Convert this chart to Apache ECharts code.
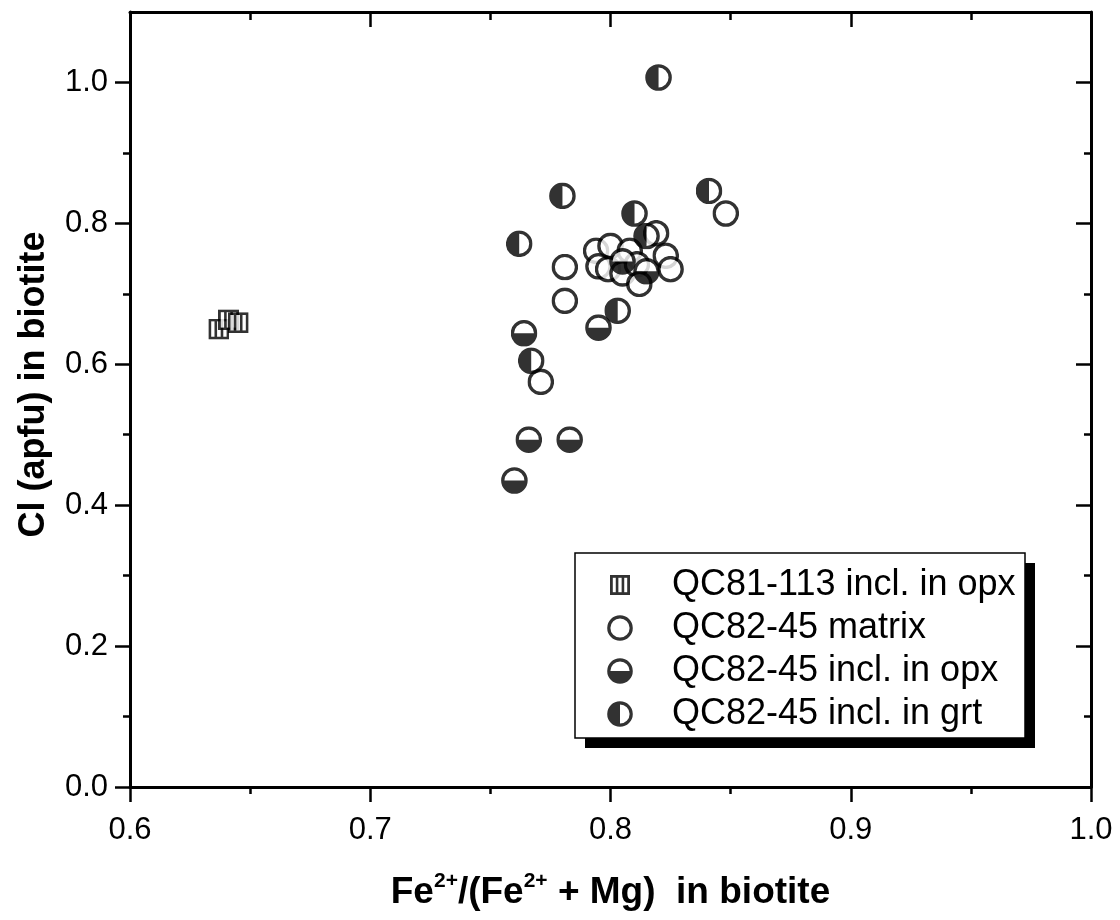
<!DOCTYPE html>
<html>
<head>
<meta charset="utf-8">
<title>Cl vs Fe/(Fe+Mg) in biotite</title>
<script src="https://cdn.jsdelivr.net/npm/echarts@6/dist/echarts.min.js"></script>
<style>
  html, body { margin: 0; padding: 0; background: #fff; }
  #chart { width: 1120px; height: 920px; }
</style>
</head>
<body>
<div id="chart"></div>
<script>
// ---- data: Fe2+/(Fe2+ + Mg) (x) and Cl apfu (y) per analysis ----
const seriesNames = [
  'QC81-113 incl. in opx',
  'QC82-45 matrix',
  'QC82-45 incl. in opx',
  'QC82-45 incl. in grt'
];

const qc81OpxX = [0.637, 0.641, 0.645];
const qc81OpxY = [0.650, 0.663, 0.659];

const matrixX = [0.848, 0.781, 0.781, 0.771, 0.794, 0.800, 0.808, 0.795, 0.799, 0.805, 0.811, 0.812, 0.823, 0.825, 0.819];
const matrixY = [0.814, 0.738, 0.690, 0.575, 0.761, 0.768, 0.761, 0.739, 0.735, 0.729, 0.742, 0.714, 0.754, 0.735, 0.786];

const inclOpxX = [0.764, 0.795, 0.766, 0.783, 0.760, 0.805, 0.815];
const inclOpxY = [0.644, 0.652, 0.493, 0.493, 0.435, 0.746, 0.732];

const inclGrtX = [0.820, 0.780, 0.762, 0.810, 0.841, 0.815, 0.803, 0.767];
const inclGrtY = [1.007, 0.839, 0.771, 0.814, 0.846, 0.782, 0.676, 0.605];

// ---- axis ticks ----
const xMajorTicks = [0.6, 0.7, 0.8, 0.9, 1.0];
const xMinorTicks = [0.65, 0.75, 0.85, 0.95];
const yMajorTicks = [0.0, 0.2, 0.4, 0.6, 0.8, 1.0];
const yMinorTicks = [0.1, 0.3, 0.5, 0.7, 0.9];

const FONT = '"Liberation Sans", Arial, Helvetica, sans-serif';

function zip(xs, ys) { return xs.map((x, i) => [x, ys[i]]); }

// ---- marker glyphs (SVG) ----
function svgUri(svg) {
  return 'image://data:image/svg+xml;charset=utf-8,' + encodeURIComponent(svg);
}
const R = 11.2, SW = 3.2;
const circleOpen =
  '<svg xmlns="http://www.w3.org/2000/svg" width="54" height="54" viewBox="0 0 26 26">' +
  '<circle cx="13" cy="13" r="' + R + '" fill="#fff" stroke="#000" stroke-width="' + SW + '"/></svg>';
const circleBottomHalf =
  '<svg xmlns="http://www.w3.org/2000/svg" width="54" height="54" viewBox="0 0 26 26">' +
  '<circle cx="13" cy="13" r="' + R + '" fill="#fff"/>' +
  '<path d="M' + (13 - R) + ' 13 A' + R + ' ' + R + ' 0 0 0 ' + (13 + R) + ' 13 Z" fill="#000"/>' +
  '<circle cx="13" cy="13" r="' + R + '" fill="none" stroke="#000" stroke-width="' + SW + '"/></svg>';
const circleLeftHalf =
  '<svg xmlns="http://www.w3.org/2000/svg" width="54" height="54" viewBox="0 0 26 26">' +
  '<circle cx="13" cy="13" r="' + R + '" fill="#fff"/>' +
  '<path d="M13 ' + (13 - R) + ' A' + R + ' ' + R + ' 0 0 0 13 ' + (13 + R) + ' Z" fill="#000"/>' +
  '<circle cx="13" cy="13" r="' + R + '" fill="none" stroke="#000" stroke-width="' + SW + '"/></svg>';
function squareSvg(box, side) {
  const o = (box - side) / 2;
  const a = o + 1.4, w = side - 2.8;
  const l1 = o + side / 3 + 0.4, l2 = o + 2 * side / 3 - 0.4;
  return '<svg xmlns="http://www.w3.org/2000/svg" width="' + box * 2 + '" height="' + box * 2 +
    '" viewBox="0 0 ' + box + ' ' + box + '">' +
    '<rect x="' + a + '" y="' + a + '" width="' + w + '" height="' + w +
    '" fill="#fff" stroke="#000" stroke-width="2.8"/>' +
    '<line x1="' + l1 + '" y1="' + a + '" x2="' + l1 + '" y2="' + (a + w) + '" stroke="#000" stroke-width="2.6"/>' +
    '<line x1="' + l2 + '" y1="' + a + '" x2="' + l2 + '" y2="' + (a + w) + '" stroke="#000" stroke-width="2.6"/>' +
    '</svg>';
}

const SYM_SQUARE = svgUri(squareSvg(21, 21));
const SYM_SQUARE_LEGEND = svgUri(squareSvg(26, 20));
const SYM_OPEN = svgUri(circleOpen);
const SYM_BOTTOM = svgUri(circleBottomHalf);
const SYM_LEFT = svgUri(circleLeftHalf);

// ---- axes ----
const axisLineStyle = { color: '#000', width: 3 };
function xAxisDef(position, ticks, len, inside, withLabels) {
  return {
    type: 'value', position: position, min: 0.6, max: 1.0,
    axisLine: { show: withLabels !== null, onZero: false, lineStyle: axisLineStyle },
    axisTick: { show: true, inside: inside, length: len, customValues: ticks,
                lineStyle: { color: '#000', width: 2.5 } },
    axisLabel: withLabels ? {
      show: true, customValues: xMajorTicks, margin: 28,
      formatter: v => v.toFixed(1),
      color: '#000', fontSize: 31, fontFamily: FONT
    } : { show: false },
    splitLine: { show: false }
  };
}
function yAxisDef(position, ticks, len, inside, withLabels) {
  return {
    type: 'value', position: position, min: 0, max: 1.1,
    axisLine: { show: withLabels !== null, onZero: false, lineStyle: axisLineStyle },
    axisTick: { show: true, inside: inside, length: len, customValues: ticks,
                lineStyle: { color: '#000', width: 2.5 } },
    axisLabel: withLabels ? {
      show: true, customValues: yMajorTicks, margin: 22,
      formatter: v => v.toFixed(1),
      color: '#000', fontSize: 31, fontFamily: FONT
    } : { show: false },
    splitLine: { show: false }
  };
}

const xAxes = [
  Object.assign(xAxisDef('bottom', xMajorTicks, 15, false, true), {
    name: '{t|Fe}{s|2+}{t|/(Fe}{s|2+}{t| + Mg)  in biotite}',
    nameLocation: 'middle', nameGap: 84,
    nameTextStyle: {
      rich: {
        t: { fontSize: 37, fontWeight: 'bold', fontFamily: FONT, color: '#000', lineHeight: 44 },
        s: { fontSize: 21, fontWeight: 'bold', fontFamily: FONT, color: '#000', lineHeight: 20, verticalAlign: 'top' }
      }
    }
  }),
  xAxisDef('bottom', xMinorTicks, 7, false, null),
  xAxisDef('top', xMajorTicks, 15, true, false),
  xAxisDef('top', xMinorTicks, 8, true, null)
];
const yAxes = [
  Object.assign(yAxisDef('left', yMajorTicks, 15, false, true), {
    name: 'Cl (apfu) in biotite',
    nameLocation: 'middle', nameGap: 78,
    nameTextStyle: { fontSize: 36, fontWeight: 'bold', fontFamily: FONT, color: '#000',
                     padding: [0, 0, 0, 30] }
  }),
  yAxisDef('left', yMinorTicks, 7, false, null),
  yAxisDef('right', yMajorTicks, 15, true, false),
  yAxisDef('right', yMinorTicks, 7, true, null)
];

function scatter(name, xs, ys, symbol, size, z) {
  return {
    name: name, type: 'scatter', xAxisIndex: 0, yAxisIndex: 0,
    data: zip(xs, ys), symbol: symbol, symbolSize: size, z: z,
    emphasis: { disabled: true }
  };
}

// legend frame with its solid drop shadow
const legendBox = { x: 575, y: 553, width: 450, height: 185, shadow: 10 };

const chart = echarts.init(document.getElementById('chart'), null, { renderer: 'canvas' });
chart.setOption({
  backgroundColor: '#fff',
  animation: false,
  grid: { left: 130, right: 29, top: 12, bottom: 133, containLabel: false },
  xAxis: xAxes,
  yAxis: yAxes,
  graphic: [
    {
      type: 'rect', z: 20, silent: true,
      shape: { x: legendBox.x + legendBox.shadow, y: legendBox.y + legendBox.shadow,
               width: legendBox.width, height: legendBox.height },
      style: { fill: '#000' }
    },
    {
      type: 'rect', z: 21, silent: true,
      shape: { x: legendBox.x, y: legendBox.y, width: legendBox.width, height: legendBox.height },
      style: { fill: '#fff', stroke: '#000', lineWidth: 1.5 }
    }
  ],
  legend: {
    orient: 'vertical', left: 575, top: 555, z: 30,
    padding: [12, 8, 12, 32],
    itemGap: 7, itemWidth: 26, itemHeight: 26,
    textStyle: { color: '#000', fontSize: 36, lineHeight: 33, fontFamily: FONT, padding: [0, 0, 0, 34] },
    selectedMode: false,
    data: [
      { name: seriesNames[0], icon: SYM_SQUARE_LEGEND },
      { name: seriesNames[1], icon: SYM_OPEN },
      { name: seriesNames[2], icon: SYM_BOTTOM },
      { name: seriesNames[3], icon: SYM_LEFT }
    ]
  },
  series: [
    scatter(seriesNames[1], matrixX, matrixY, SYM_OPEN, 27, 2),
    scatter(seriesNames[0], qc81OpxX, qc81OpxY, SYM_SQUARE, 21, 3),
    scatter(seriesNames[2], inclOpxX, inclOpxY, SYM_BOTTOM, 27, 4),
    scatter(seriesNames[3], inclGrtX, inclGrtY, SYM_LEFT, 27, 5)
  ]
});
</script>
</body>
</html>
